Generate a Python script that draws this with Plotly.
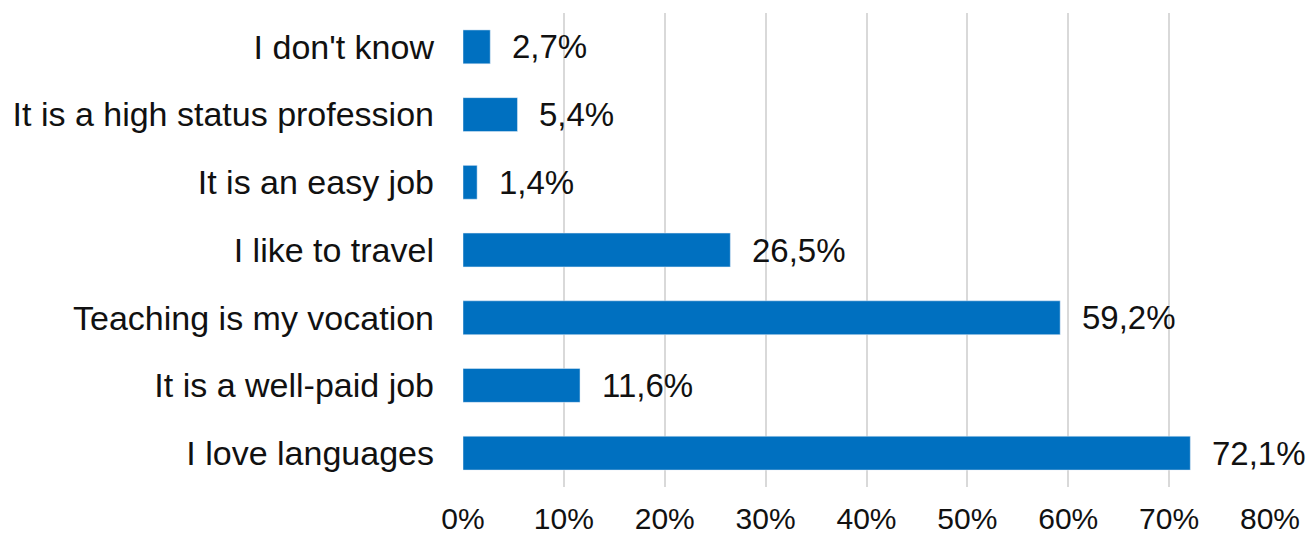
import plotly.graph_objects as go

categories = ["I love languages", "It is a well-paid job", "Teaching is my vocation",
              "I like to travel", "It is an easy job", "It is a high status profession",
              "I don't know"]
values = [0.721, 0.116, 0.592, 0.265, 0.014, 0.054, 0.027]
value_labels = ["72,1%", "11,6%", "59,2%", "26,5%", "1,4%", "5,4%", "2,7%"]
tick_vals = [0, 0.1, 0.2, 0.3, 0.4, 0.5, 0.6, 0.7, 0.8]
tick_text = ["0%", "10%", "20%", "30%", "40%", "50%", "60%", "70%", "80%"]

FONT = "Liberation Sans, Arial, sans-serif"

fig = go.Figure()
fig.add_trace(go.Bar(
    y=categories, x=values, orientation="h",
    marker=dict(color="#0070C0"),
    hoverinfo="skip",
))

for c, v, t in zip(categories, values, value_labels):
    fig.add_annotation(x=v, y=c, text=t, showarrow=False, xanchor="left",
                       xshift=20, font=dict(family=FONT, size=33, color="#111111"))

fig.update_layout(
    width=1314, height=540,
    margin=dict(l=463, r=44, t=13, b=53, autoexpand=False),
    plot_bgcolor="white", paper_bgcolor="white",
    bargap=0.5,
    showlegend=False,
    font=dict(family=FONT, color="#111111"),
)
fig.update_xaxes(range=[0, 0.8], tickvals=tick_vals, ticktext=tick_text,
                 showgrid=True, gridcolor="#D9D9D9", gridwidth=2,
                 zeroline=False, showline=False, automargin=False,
                 tickfont=dict(family=FONT, size=30, color="#111111"),
                 ticklabelstandoff=11)
fig.update_yaxes(categoryorder="array", categoryarray=categories,
                 showgrid=False, zeroline=False, showline=False, automargin=False,
                 tickfont=dict(family=FONT, size=34, color="#111111"),
                 ticklabelstandoff=28)

fig.write_html("out.html",
               config={"displayModeBar": False},
               post_script="document.body.style.margin='0';document.body.style.overflow='hidden';")
